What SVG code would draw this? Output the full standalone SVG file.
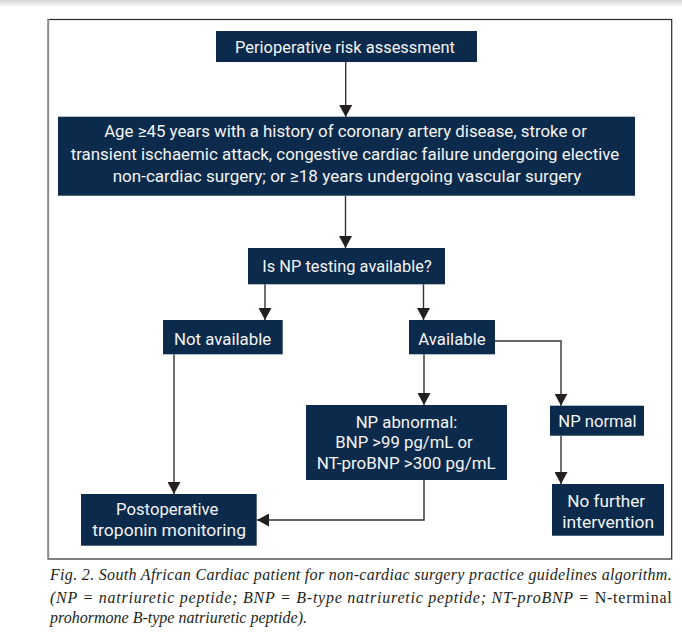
<svg xmlns="http://www.w3.org/2000/svg" width="682" height="634" viewBox="0 0 682 634">
  <defs>
    <linearGradient id="shade" x1="0" y1="0" x2="0" y2="1">
      <stop offset="0" stop-color="#d4d4d4"/>
      <stop offset="1" stop-color="#ffffff"/>
    </linearGradient>
    <marker id="arr" markerUnits="userSpaceOnUse" markerWidth="13" markerHeight="13" refX="12" refY="6.5" orient="auto" viewBox="0 0 13 13">
      <path d="M0,0 L12,6.5 L0,13 Z" fill="#231f20"/>
    </marker>
    <style>
      .box { fill: #0c2a4b; }
      .t { font-family: Roboto, "Open Sans", "Liberation Sans", sans-serif; font-size: 17px; fill: #f4f4f4; text-anchor: middle; }
      .con { fill: none; stroke: #333333; stroke-width: 1.4; marker-end: url(#arr); }
      .cap { font-family: "Liberation Serif", "Times New Roman", serif; font-style: italic; font-size: 16px; fill: #231f20; }
    </style>
  </defs>
  <rect x="0" y="0" width="682" height="634" fill="#ffffff"/>
  <rect x="0" y="0" width="682" height="7" fill="url(#shade)"/>

  <!-- frame -->
  <rect x="48.3" y="19.5" width="623.4" height="539.5" fill="none" stroke="#2a2a2a" stroke-width="1.2"/>
  <line x1="48.3" y1="19" x2="48.3" y2="559.5" stroke="#8a8a8a" stroke-width="1.8"/>

  <g id="connectors">
    <path class="con" d="M345.7,62 V117"/>
    <path class="con" d="M345.5,196 V248"/>
    <path class="con" d="M265,284.3 V320"/>
    <path class="con" d="M423.5,284.3 V320"/>
    <path class="con" d="M174,354.3 V494"/>
    <path class="con" d="M424,354.3 V405"/>
    <path class="con" d="M495,341 H561 V405.7"/>
    <path class="con" d="M561,435.7 V484"/>
    <path class="con" d="M424,480 V520 H257"/>
  </g>

  <g id="n1">
    <rect class="box" x="216" y="31" width="261" height="31"/>
    <text class="t" x="345" y="52.8" textLength="220" lengthAdjust="spacingAndGlyphs">Perioperative risk assessment</text>
  </g>

  <g id="n2">
    <rect class="box" x="58" y="116.7" width="577" height="79"/>
    <text class="t" x="345.5" y="137.3" textLength="482.7" lengthAdjust="spacingAndGlyphs">Age ≥45 years with a history of coronary artery disease, stroke or</text>
    <text class="t" x="345" y="159.5" textLength="548.6" lengthAdjust="spacingAndGlyphs">transient ischaemic attack, congestive cardiac failure undergoing elective</text>
    <text class="t" x="347" y="181.7" textLength="468.7" lengthAdjust="spacingAndGlyphs">non-cardiac surgery; or ≥18 years undergoing vascular surgery</text>
  </g>

  <g id="n3">
    <rect class="box" x="248" y="248" width="197" height="36.3"/>
    <text class="t" x="347" y="271.7" textLength="169.3" lengthAdjust="spacingAndGlyphs">Is NP testing available?</text>
  </g>

  <g id="n4">
    <rect class="box" x="163" y="320" width="119.7" height="34.3"/>
    <text class="t" x="222.6" y="344.5" textLength="97.3" lengthAdjust="spacingAndGlyphs">Not available</text>
  </g>

  <g id="n5">
    <rect class="box" x="409" y="320" width="86" height="34.3"/>
    <text class="t" x="452" y="344.5" textLength="67.3" lengthAdjust="spacingAndGlyphs">Available</text>
  </g>

  <g id="n6">
    <rect class="box" x="306" y="405" width="201" height="75"/>
    <text class="t" x="406.5" y="427.7" textLength="101.7" lengthAdjust="spacingAndGlyphs">NP abnormal:</text>
    <text class="t" x="404" y="448.3" textLength="137.3" lengthAdjust="spacingAndGlyphs">BNP &gt;99 pg/mL or</text>
    <text class="t" x="406.2" y="469.3" textLength="179" lengthAdjust="spacingAndGlyphs">NT-proBNP &gt;300 pg/mL</text>
  </g>

  <g id="n7">
    <rect class="box" x="550" y="405.7" width="94" height="30"/>
    <text class="t" x="597.5" y="426.7" textLength="78.3" lengthAdjust="spacingAndGlyphs">NP normal</text>
  </g>

  <g id="n8">
    <rect class="box" x="552" y="484" width="112" height="51.7"/>
    <text class="t" x="606.2" y="506.7" textLength="77.7" lengthAdjust="spacingAndGlyphs">No further</text>
    <text class="t" x="608.2" y="527.7" textLength="91.7" lengthAdjust="spacingAndGlyphs">intervention</text>
  </g>

  <g id="n9">
    <rect class="box" x="81" y="494" width="175.7" height="51.7"/>
    <text class="t" x="167.2" y="515" textLength="102.3" lengthAdjust="spacingAndGlyphs">Postoperative</text>
    <text class="t" x="169.2" y="535.5" textLength="153.7" lengthAdjust="spacingAndGlyphs">troponin monitoring</text>
  </g>

  <g id="caption">
    <text class="cap" x="50" y="580" textLength="621.7" lengthAdjust="spacing">Fig. 2. South African Cardiac patient for non-cardiac surgery practice guidelines algorithm.</text>
    <text class="cap" x="50" y="602.7" textLength="621.7" lengthAdjust="spacing">(NP = natriuretic peptide; BNP = B-type natriuretic peptide; NT-proBNP = <tspan font-style="normal">N-terminal</tspan></text>
    <text class="cap" x="50" y="623.3" textLength="257" lengthAdjust="spacing">prohormone B-type natriuretic peptide).</text>
  </g>
</svg>
